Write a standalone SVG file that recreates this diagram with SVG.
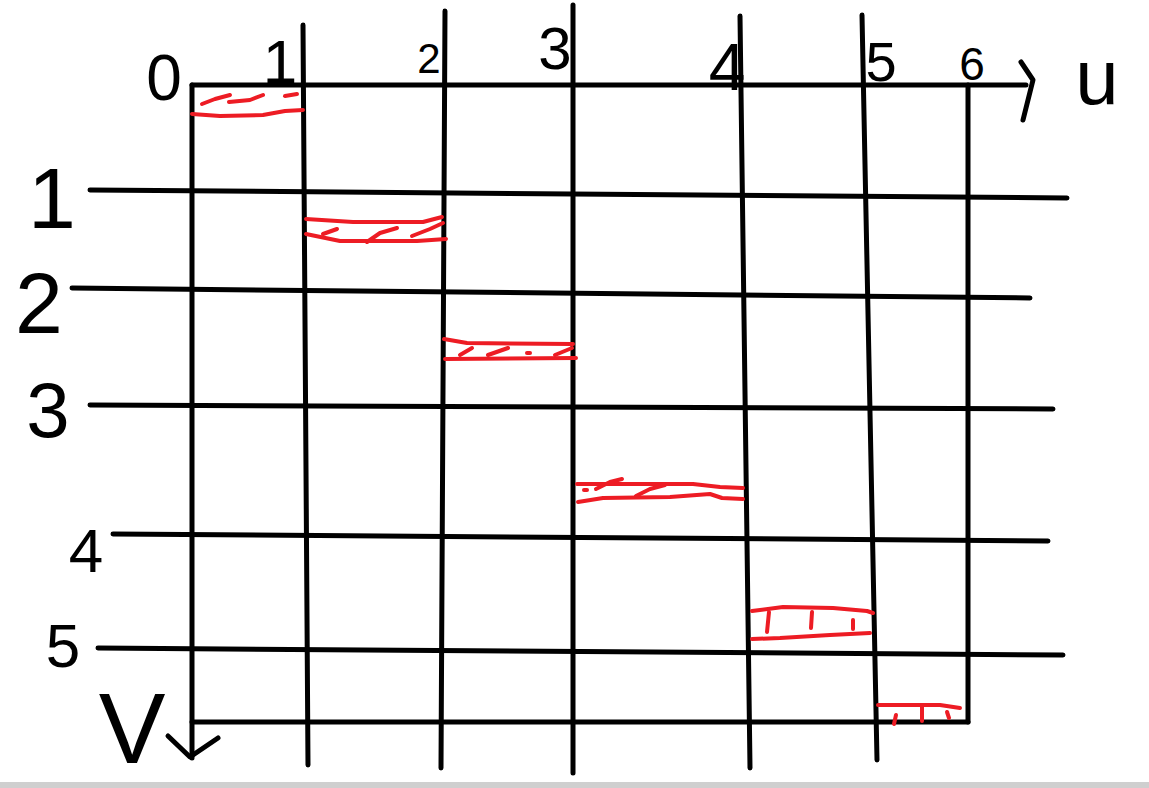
<svg xmlns="http://www.w3.org/2000/svg" width="1149" height="788" viewBox="0 0 1149 788">
<style>
.k{fill:none;stroke:#000;stroke-width:5;stroke-linecap:round;stroke-linejoin:round}
.r{fill:none;stroke:#ed1c24;stroke-width:4;stroke-linecap:round;stroke-linejoin:round}
.t{font-family:"Liberation Sans",Arial,sans-serif;fill:#000;text-anchor:middle}
</style>
<rect width="1149" height="788" fill="#fff"/>
<rect x="0" y="782" width="1149" height="6" fill="#cfcfcf"/>
<g id="grid">
<polyline class="k" points="192,85 1026,85"/>
<polyline class="k" points="192,85 192,758"/>
<polyline class="k" points="968,85 968,722"/>
<polyline class="k" points="192,722 968,722"/>
<polyline class="k" points="303,25 308,765"/>
<polyline class="k" points="445,11 441,768"/>
<polyline class="k" points="573,5 573,773"/>
<polyline class="k" points="740,16 750,768"/>
<polyline class="k" points="862,15 877,760"/>
<polyline class="k" points="90,190 1067,198"/>
<polyline class="k" points="72,288 1030,298"/>
<polyline class="k" points="90,405 1053,409"/>
<polyline class="k" points="113,534 1048,541"/>
<polyline class="k" points="98,648 1063,655"/>
<polyline class="k" points="1021,62 1033,80 1023,120"/>
<polyline class="k" points="168,736 190,757 218,738"/>
</g>
<g id="bands">
<g id="band1">
<polyline class="r" points="202,104 215,99 230,95"/>
<polyline class="r" points="229,102 250,100 263,95"/>
<polyline class="r" points="285,96 297,94"/>
<polyline class="r" points="192,114 220,116 263,115 285,111 303,110"/>
</g>
<g id="band2">
<polyline class="r" points="306,219 353,222 423,222 442,217"/>
<polyline class="r" points="306,234 340,241 417,241 446,239"/>
<polyline class="r" points="323,234 337,229"/>
<polyline class="r" points="367,242 380,233 397,228"/>
<polyline class="r" points="412,236 430,229 443,223"/>
</g>
<g id="band3">
<polyline class="r" points="444,339 467,343 573,344"/>
<polyline class="r" points="445,359 576,358"/>
<polyline class="r" points="460,355 472,348"/>
<polyline class="r" points="488,355 508,348"/>
<polyline class="r" points="527,353 530,353"/>
<polyline class="r" points="555,355 572,348"/>
</g>
<g id="band4">
<polyline class="r" points="577,484 693,484 720,487 743,488"/>
<polyline class="r" points="578,502 603,498 670,497 710,494 722,498 743,499"/>
<polyline class="r" points="584,490 587,490"/>
<polyline class="r" points="596,489 610,482 622,479"/>
<polyline class="r" points="636,496 650,489 665,485"/>
</g>
<g id="band5">
<polyline class="r" points="752,611 783,607 833,608 867,611 873,613"/>
<polyline class="r" points="752,639 780,638 830,635 870,633"/>
<polyline class="r" points="769,612 767,632"/>
<polyline class="r" points="812,612 811,628"/>
<polyline class="r" points="853,620 853,629"/>
</g>
<g id="band6">
<polyline class="r" points="878,705 940,705 960,708"/>
<polyline class="r" points="896,715 894,724"/>
<polyline class="r" points="922,707 922,721"/>
<polyline class="r" points="947,712 949,718"/>
</g>
</g>
<g id="labels">
<text class="t" x="164" y="100" font-size="64">0</text>
<text class="t" x="280" y="83" font-size="62">1</text>
<text class="t" x="429" y="73" font-size="42">2</text>
<text class="t" x="555" y="69" font-size="60">3</text>
<text class="t" x="727" y="90" font-size="66">4</text>
<text class="t" x="881" y="81" font-size="56">5</text>
<text class="t" x="972" y="80" font-size="46">6</text>
<text class="t" x="1097" y="104" font-size="78">u</text>
<text class="t" x="52" y="228" font-size="86">1</text>
<text class="t" x="39" y="333" font-size="86">2</text>
<text class="t" x="48" y="437" font-size="78">3</text>
<text class="t" x="86" y="572" font-size="62">4</text>
<text class="t" x="63" y="667" font-size="62">5</text>
<text class="t" x="132" y="763" font-size="100">V</text>
</g>
</svg>
